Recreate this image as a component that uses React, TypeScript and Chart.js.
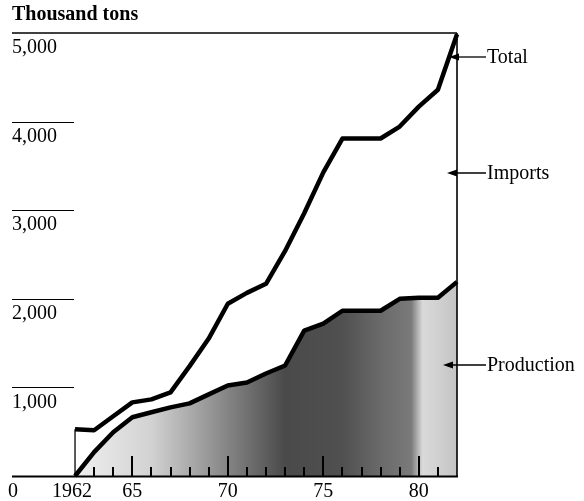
import React, { useEffect, useRef } from "react";
import { Chart, registerables } from "chart.js";

Chart.register(...registerables);

const years = [1962, 1963, 1964, 1965, 1966, 1967, 1968, 1969, 1970, 1971, 1972, 1973, 1974, 1975, 1976, 1977, 1978, 1979, 1980, 1981, 1982];
const totalValues = [528, 517, 674, 831, 865, 944, 1240, 1551, 1944, 2067, 2169, 2540, 2966, 3427, 3809, 3809, 3809, 3944, 4169, 4360, 4985];
const productionValues = [0, 270, 494, 663, 719, 775, 820, 921, 1022, 1056, 1157, 1247, 1640, 1719, 1865, 1865, 1865, 2000, 2011, 2011, 2191];
const yTickValues = [1000, 2000, 3000, 4000, 5000];
const yTickLabels = ["1,000", "2,000", "3,000", "4,000", "5,000"];
const xLabelYears = [1962, 1965, 1970, 1975, 1980];
const xLabelTexts = ["1962", "65", "70", "75", "80"];
const seriesLabels = ["Total", "Imports", "Production"];
const unitTitle = "Thousand tons";

const FONT = '"Liberation Serif", "Times New Roman", serif';

const decorPlugin = {
  id: "decor",
  afterDatasetsDraw(chart: any) {
    const { ctx, chartArea, scales } = chart;
    const xs = scales.x;
    const ys = scales.y;
    const left = chartArea.left;
    const x62 = xs.getPixelForValue(years[0]);
    const x82 = xs.getPixelForValue(years[years.length - 1]);
    const y0 = ys.getPixelForValue(0);
    const yTop = ys.getPixelForValue(5000);
    ctx.save();
    ctx.strokeStyle = "#000";
    ctx.fillStyle = "#000";

    // year ticks along the baseline
    ctx.lineWidth = 2;
    for (let yr = years[0] + 1; yr < years[years.length - 1]; yr++) {
      const px = Math.round(xs.getPixelForValue(yr));
      const h = yr % 5 === 0 ? 20 : 9;
      ctx.beginPath();
      ctx.moveTo(px, y0);
      ctx.lineTo(px, y0 - h);
      ctx.stroke();
    }

    // baseline
    ctx.lineWidth = 2;
    ctx.beginPath();
    ctx.moveTo(left, y0 + 0.5);
    ctx.lineTo(x82 + 1, y0 + 0.5);
    ctx.stroke();

    // top line (5,000)
    ctx.lineWidth = 1.5;
    ctx.beginPath();
    ctx.moveTo(left, yTop);
    ctx.lineTo(x82, yTop);
    ctx.stroke();

    // short gridlines
    ctx.lineWidth = 1.2;
    for (let i = 0; i < yTickValues.length - 1; i++) {
      const py = Math.round(ys.getPixelForValue(yTickValues[i])) + 0.5;
      ctx.beginPath();
      ctx.moveTo(left, py);
      ctx.lineTo(x62 - 1, py);
      ctx.stroke();
    }

    // vertical lines at 1962 and 1982
    ctx.lineWidth = 1.3;
    ctx.beginPath();
    ctx.moveTo(x62, y0);
    ctx.lineTo(x62, ys.getPixelForValue(totalValues[0]));
    ctx.stroke();
    ctx.lineWidth = 1.6;
    ctx.beginPath();
    ctx.moveTo(x82, y0);
    ctx.lineTo(x82, yTop);
    ctx.stroke();

    // y labels
    ctx.font = `20px ${FONT}`;
    ctx.textAlign = "left";
    ctx.textBaseline = "top";
    for (let i = 0; i < yTickValues.length; i++) {
      const py = ys.getPixelForValue(yTickValues[i]);
      ctx.fillText(yTickLabels[i], left, py + 5);
    }

    // title
    ctx.font = `bold 20px ${FONT}`;
    ctx.textBaseline = "middle";
    ctx.fillText(unitTitle, left, 15);

    // x labels
    ctx.font = `20px ${FONT}`;
    ctx.textAlign = "center";
    ctx.textBaseline = "middle";
    ctx.fillText("0", left + 1, 492);
    for (let i = 0; i < xLabelYears.length; i++) {
      const px = xs.getPixelForValue(xLabelYears[i]);
      ctx.fillText(xLabelTexts[i], px - (i === 0 ? 3 : 0), 492);
    }

    // series labels with arrows
    const labelX = 487;
    const labelYs = [57, 173, 365];
    const tipXs = [449, 447, 443];
    ctx.textAlign = "left";
    ctx.font = `20px ${FONT}`;
    for (let i = 0; i < seriesLabels.length; i++) {
      const ly = labelYs[i];
      ctx.lineWidth = 1.3;
      ctx.beginPath();
      ctx.moveTo(labelX - 1, ly);
      ctx.lineTo(tipXs[i] + 6, ly);
      ctx.stroke();
      ctx.beginPath();
      ctx.moveTo(tipXs[i], ly);
      ctx.lineTo(tipXs[i] + 10, ly - 3.5);
      ctx.lineTo(tipXs[i] + 10, ly + 3.5);
      ctx.closePath();
      ctx.fill();
      ctx.fillText(seriesLabels[i], labelX, ly + 1);
    }
    ctx.restore();
  },
};

function productionFill(context: any) {
  const chart = context.chart;
  const { ctx, chartArea, scales } = chart;
  if (!chartArea || !scales.x) return "#888";
  const xs = scales.x;
  const x0 = xs.getPixelForValue(1962);
  const x1 = xs.getPixelForValue(1982);
  const g = ctx.createLinearGradient(x0, 0, x1, 0);
  g.addColorStop(0.0, "#f0f0f0");
  g.addColorStop(0.2, "#d2d2d2");
  g.addColorStop(0.38, "#8c8c8c");
  g.addColorStop(0.55, "#4a4a4a");
  g.addColorStop(0.7, "#505050");
  g.addColorStop(0.8, "#6a6a6a");
  g.addColorStop(0.88, "#7a7a7a");
  g.addColorStop(0.91, "#dadada");
  g.addColorStop(1.0, "#c4c4c4");
  return g;
}

export default function App() {
  const canvasRef = useRef<HTMLCanvasElement | null>(null);

  useEffect(() => {
    if (!canvasRef.current) return;
    const chart = new Chart(canvasRef.current, {
      type: "line",
      data: {
        datasets: [
          {
            label: "Total",
            data: years.map((yr, i) => ({ x: yr, y: totalValues[i] })),
            borderColor: "#000",
            borderWidth: 4.5,
            pointRadius: 0,
            tension: 0,
            fill: false,
            clip: false as any,
            borderJoinStyle: "round",
          },
          {
            label: "Production",
            data: years.map((yr, i) => ({ x: yr, y: productionValues[i] })),
            borderColor: "#000",
            borderWidth: 4.5,
            pointRadius: 0,
            tension: 0,
            fill: "origin",
            backgroundColor: productionFill,
            clip: false as any,
            borderJoinStyle: "round",
          },
        ],
      },
      options: {
        responsive: false,
        animation: false,
        layout: { padding: { left: 12, right: 127, top: 33, bottom: 25 } },
        plugins: {
          legend: { display: false },
          tooltip: { enabled: false },
          title: { display: false },
        },
        scales: {
          x: { type: "linear", min: 1958.7, max: 1982, display: false },
          y: { type: "linear", min: 0, max: 5000, display: false },
        },
      },
      plugins: [decorPlugin],
    });
    return () => chart.destroy();
  }, []);

  return (
    <div style={{ position: "fixed", left: 0, top: 0, width: 584, height: 501, background: "#fff" }}>
      <canvas ref={canvasRef} width={584} height={501} style={{ width: 584, height: 501, display: "block" }} />
    </div>
  );
}
